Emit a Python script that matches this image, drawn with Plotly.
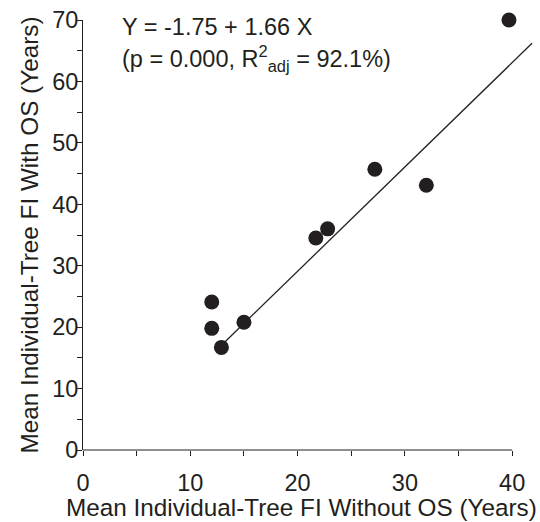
import plotly.graph_objects as go

# Data
fi_without_os = [39.7, 27.2, 22.8, 21.7, 12.0, 12.0, 15.0, 12.9, 32.0]
fi_with_os = [70.0, 45.7, 36.0, 34.5, 24.1, 19.8, 20.8, 16.7, 43.1]

# Regression line as drawn in the figure (endpoints in data units)
fit_x = [12.43, 41.85]
fit_y = [16.24, 66.2]

x_tickvals = [0, 5, 10, 15, 20, 25, 30, 35, 40]
x_ticktext = ["0", "", "10", "", "20", "", "30", "", "40"]
y_tickvals = [0, 5, 10, 15, 20, 25, 30, 35, 40, 45, 50, 55, 60, 65, 70]
y_ticktext = ["0", "", "10", "", "20", "", "30", "", "40", "", "50", "", "60", "", "70"]

x_title = "Mean Individual-Tree FI Without OS (Years)"
y_title = "Mean Individual-Tree FI With OS (Years)"
eq_line1 = "Y = -1.75 + 1.66 X"
eq_line2 = "(p = 0.000, R<sup>2</sup><sub>adj</sub> = 92.1%)"

ink = "#231f20"
FONT = "Liberation Sans, Arial, sans-serif"
FS = 23.5
FS_TITLE = 24.3

fig = go.Figure()
fig.add_trace(go.Scatter(x=fit_x, y=fit_y, mode="lines",
                         line=dict(color=ink, width=1.3), showlegend=False, hoverinfo="skip"))
fig.add_trace(go.Scatter(x=fi_without_os, y=fi_with_os, mode="markers",
                         marker=dict(color=ink, size=15, line=dict(width=0)),
                         cliponaxis=False, showlegend=False))

fig.update_layout(
    width=540, height=522,
    margin=dict(l=82.5, r=1.2, t=20, b=72.3),
    paper_bgcolor="white", plot_bgcolor="white",
    font=dict(family=FONT, size=FS, color=ink),
    xaxis=dict(range=[0, 42.5], tickmode="array", tickvals=x_tickvals, ticktext=x_ticktext,
               ticks="outside", ticklen=5, tickwidth=1, tickcolor=ink,
               ticklabelstandoff=7,
               showline=False, showgrid=False, zeroline=False,
               tickfont=dict(size=FS)),
    yaxis=dict(range=[0, 70], tickmode="array", tickvals=y_tickvals, ticktext=y_ticktext,
               ticks="outside", ticklen=5, tickwidth=1, tickcolor=ink,
               ticklabelstandoff=-6,
               showline=True, linecolor=ink, linewidth=1,
               showgrid=False, zeroline=False,
               title=dict(text=y_title, standoff=6, font=dict(size=FS_TITLE)),
               tickfont=dict(size=FS)),
    shapes=[dict(type="line", xref="x", yref="paper", x0=0, x1=40, y0=0, y1=0,
                 line=dict(color=ink, width=1))],
    annotations=[
        dict(text=x_title, xref="paper", yref="paper", x=0.48, y=-0.133,
             xanchor="center", yanchor="middle", showarrow=False,
             font=dict(size=FS_TITLE, color=ink)),
        dict(text=eq_line1, xref="x", yref="y", x=3.45, y=68.8, xanchor="left",
             yanchor="middle", showarrow=False, font=dict(size=FS, color=ink)),
        dict(text=eq_line2, xref="x", yref="y", x=3.45, y=63.8, xanchor="left",
             yanchor="middle", showarrow=False, font=dict(size=FS, color=ink)),
    ],
)

fig.write_html("out.html")
